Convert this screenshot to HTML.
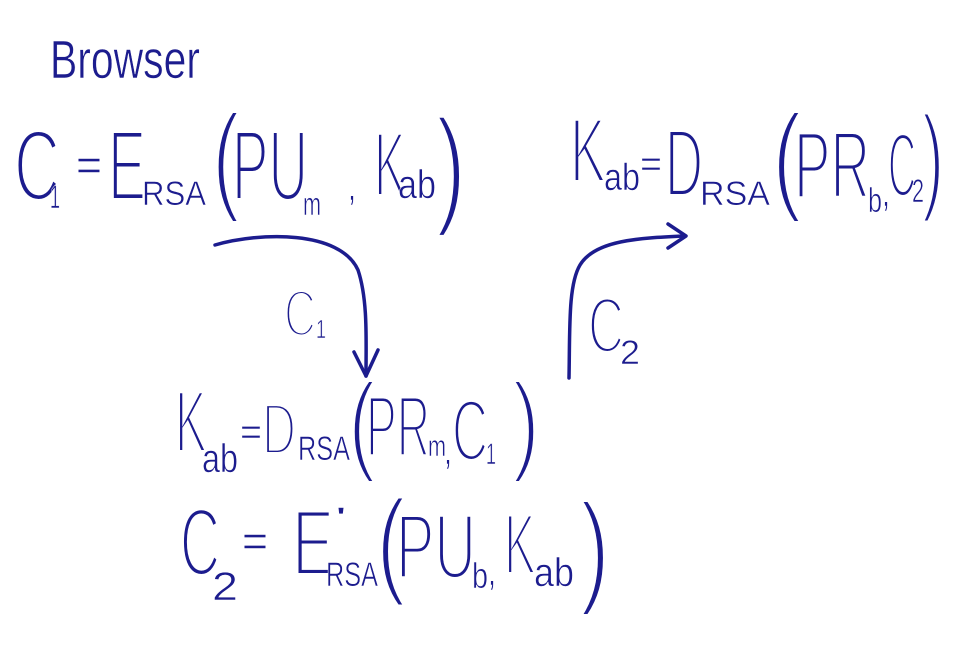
<!DOCTYPE html>
<html><head><meta charset="utf-8"><style>
html,body{margin:0;padding:0;background:#fff;}
svg text{font-family:"Liberation Sans",sans-serif;fill:#1c1c8e;stroke:#fff;stroke-width:4px;paint-order:fill stroke;}
svg text.s{stroke-width:0.6px;}
</style></head><body>
<svg width="960" height="640" viewBox="0 0 960 640" xmlns="http://www.w3.org/2000/svg">
<g>
<text class="s" x="50" y="78" font-size="54" textLength="150" lengthAdjust="spacingAndGlyphs">Browser</text>

<text x="14" y="200" font-size="100" textLength="46" lengthAdjust="spacingAndGlyphs">C</text>
<text class="s" x="50" y="208" font-size="32" textLength="10" lengthAdjust="spacingAndGlyphs">1</text>
<text class="s" x="76" y="180" font-size="44" textLength="26" lengthAdjust="spacingAndGlyphs">=</text>
<text x="108" y="200" font-size="100" textLength="38" lengthAdjust="spacingAndGlyphs">E</text>
<text class="s" x="142" y="205" font-size="34" textLength="64" lengthAdjust="spacingAndGlyphs">RSA</text>
<text x="212" y="198" font-size="120" textLength="28" lengthAdjust="spacingAndGlyphs">(</text>
<text x="232" y="200" font-size="100" textLength="76" lengthAdjust="spacingAndGlyphs">PU</text>
<text class="s" x="303" y="215" font-size="32" textLength="18" lengthAdjust="spacingAndGlyphs">m</text>
<text class="s" x="348" y="200" font-size="40" textLength="8" lengthAdjust="spacingAndGlyphs">,</text>
<text x="374" y="196" font-size="92" textLength="32" lengthAdjust="spacingAndGlyphs">K</text>
<text class="s" x="398" y="198" font-size="40" textLength="38" lengthAdjust="spacingAndGlyphs">ab</text>
<text x="436" y="210" font-size="130" textLength="30" lengthAdjust="spacingAndGlyphs">)</text>

<text x="570" y="182" font-size="92" textLength="36" lengthAdjust="spacingAndGlyphs">K</text>
<text class="s" x="604" y="190" font-size="38" textLength="36" lengthAdjust="spacingAndGlyphs">ab</text>
<text class="s" x="640" y="176" font-size="36" textLength="22" lengthAdjust="spacingAndGlyphs">=</text>
<text x="665" y="196" font-size="96" textLength="38" lengthAdjust="spacingAndGlyphs">D</text>
<text class="s" x="700" y="205" font-size="34" textLength="70" lengthAdjust="spacingAndGlyphs">RSA</text>
<text x="772" y="198" font-size="120" textLength="30" lengthAdjust="spacingAndGlyphs">(</text>
<text x="794" y="198" font-size="96" textLength="76" lengthAdjust="spacingAndGlyphs">PR</text>
<text class="s" x="868" y="212" font-size="34" textLength="14" lengthAdjust="spacingAndGlyphs">b</text>
<text class="s" x="882" y="206" font-size="40" textLength="8" lengthAdjust="spacingAndGlyphs">,</text>
<text x="888" y="196" font-size="90" textLength="28" lengthAdjust="spacingAndGlyphs">C</text>
<text class="s" x="912" y="202" font-size="32" textLength="12" lengthAdjust="spacingAndGlyphs">2</text>
<text x="922" y="198" font-size="118" textLength="22" lengthAdjust="spacingAndGlyphs">)</text>

<path d="M215 245 C 260 232, 340 230, 358 270 C 368 300, 366 340, 366 376" fill="none" stroke="#1c1c8e" stroke-width="3.5" stroke-linecap="round"/>
<path d="M354 352 L366 376 L378 350" fill="none" stroke="#1c1c8e" stroke-width="3.5" stroke-linecap="round" stroke-linejoin="round"/>
<text x="284" y="336" font-size="66" textLength="32" lengthAdjust="spacingAndGlyphs">C</text>
<text class="s" x="316" y="338" font-size="26" textLength="10" lengthAdjust="spacingAndGlyphs">1</text>

<path d="M569 378 C 570 330, 568 285, 580 265 C 595 240, 640 238, 684 236" fill="none" stroke="#1c1c8e" stroke-width="3.5" stroke-linecap="round"/>
<path d="M668 224 L686 236 L668 248" fill="none" stroke="#1c1c8e" stroke-width="3.5" stroke-linecap="round" stroke-linejoin="round"/>
<text x="588" y="352" font-size="78" textLength="36" lengthAdjust="spacingAndGlyphs">C</text>
<text class="s" x="620" y="364" font-size="34" textLength="20" lengthAdjust="spacingAndGlyphs">2</text>

<text x="175" y="452" font-size="88" textLength="32" lengthAdjust="spacingAndGlyphs">K</text>
<text class="s" x="202" y="472" font-size="40" textLength="36" lengthAdjust="spacingAndGlyphs">ab</text>
<text class="s" x="240" y="444" font-size="36" textLength="22" lengthAdjust="spacingAndGlyphs">=</text>
<text x="262" y="454" font-size="72" textLength="34" lengthAdjust="spacingAndGlyphs">D</text>
<text class="s" x="298" y="460" font-size="34" textLength="52" lengthAdjust="spacingAndGlyphs">RSA</text>
<text x="348" y="460" font-size="110" textLength="28" lengthAdjust="spacingAndGlyphs">(</text>
<text x="366" y="456" font-size="86" textLength="64" lengthAdjust="spacingAndGlyphs">PR</text>
<text class="s" x="428" y="456" font-size="30" textLength="18" lengthAdjust="spacingAndGlyphs">m</text>
<text class="s" x="444" y="464" font-size="40" textLength="8" lengthAdjust="spacingAndGlyphs">,</text>
<text x="452" y="460" font-size="86" textLength="36" lengthAdjust="spacingAndGlyphs">C</text>
<text class="s" x="486" y="464" font-size="30" textLength="10" lengthAdjust="spacingAndGlyphs">1</text>
<text x="512" y="460" font-size="110" textLength="28" lengthAdjust="spacingAndGlyphs">)</text>

<text x="180" y="575" font-size="96" textLength="40" lengthAdjust="spacingAndGlyphs">C</text>
<text class="s" x="212" y="600" font-size="40" textLength="26" lengthAdjust="spacingAndGlyphs">2</text>
<text class="s" x="242" y="556" font-size="44" textLength="26" lengthAdjust="spacingAndGlyphs">=</text>
<text x="292" y="575" font-size="94" textLength="42" lengthAdjust="spacingAndGlyphs">E</text>
<text class="s" x="334" y="528" font-size="30" textLength="14" lengthAdjust="spacingAndGlyphs">'</text>
<text class="s" x="326" y="586" font-size="34" textLength="52" lengthAdjust="spacingAndGlyphs">RSA</text>
<text x="376" y="582" font-size="118" textLength="30" lengthAdjust="spacingAndGlyphs">(</text>
<text x="396" y="578" font-size="92" textLength="80" lengthAdjust="spacingAndGlyphs">PU</text>
<text class="s" x="472" y="588" font-size="36" textLength="16" lengthAdjust="spacingAndGlyphs">b</text>
<text class="s" x="488" y="585" font-size="40" textLength="8" lengthAdjust="spacingAndGlyphs">,</text>
<text x="504" y="574" font-size="86" textLength="32" lengthAdjust="spacingAndGlyphs">K</text>
<text class="s" x="534" y="586" font-size="40" textLength="40" lengthAdjust="spacingAndGlyphs">ab</text>
<text x="580" y="590" font-size="124" textLength="30" lengthAdjust="spacingAndGlyphs">)</text>
</g>
</svg>
</body></html>
